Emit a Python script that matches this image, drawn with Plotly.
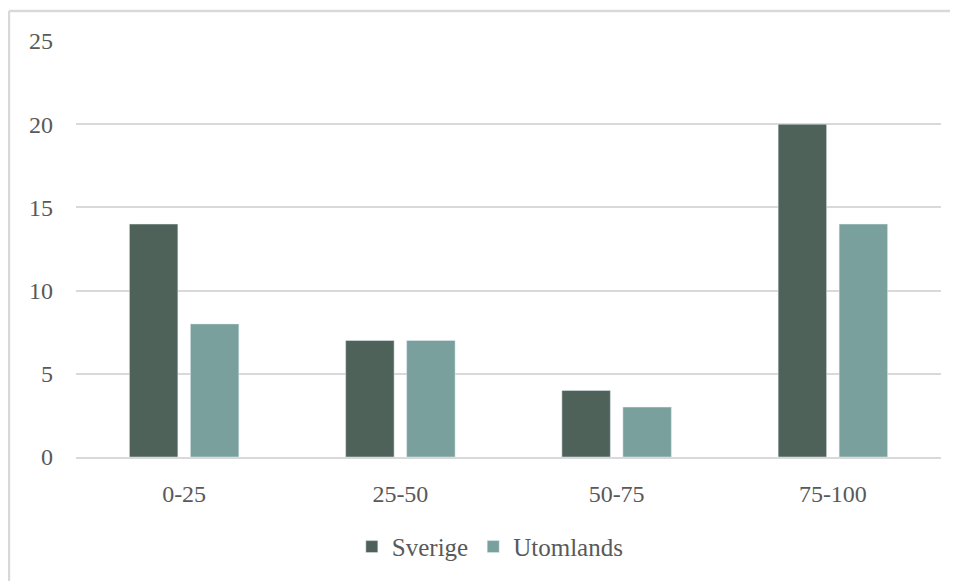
import plotly.graph_objects as go

categories = ["0-25", "25-50", "50-75", "75-100"]
sverige = [14, 7, 4, 20]
utomlands = [8, 7, 3, 14]
y_ticks = [0, 5, 10, 15, 20, 25]

font_family = "Liberation Serif, DejaVu Serif, serif"
text_color = "#595959"
border_color = "#d9d9d9"

fig = go.Figure()
fig.add_trace(go.Bar(name="Sverige", x=categories, y=sverige, marker_color="#4e625a"))
fig.add_trace(go.Bar(name="Utomlands", x=categories, y=utomlands, marker_color="#79a09d"))

# the page body adds an 8px margin, so the figure is offset by 8px
fig.update_layout(
    width=950, height=573,
    margin=dict(l=68, r=17, t=33, b=124, autoexpand=False),
    paper_bgcolor="white", plot_bgcolor="white",
    barmode="group", bargap=0.436, bargroupgap=0.205,
    font=dict(family=font_family, size=24, color=text_color),
    showlegend=True,
    legend=dict(orientation="h", x=0.479, xanchor="center", y=-0.216, yanchor="middle",
                font=dict(size=25, color=text_color), itemwidth=30, traceorder="normal"),
    shapes=[
        dict(type="line", xref="paper", yref="paper", x0=-0.0775, x1=1.2, y0=1.072, y1=1.072,
             line=dict(color=border_color, width=2.5), layer="below"),
        dict(type="line", xref="paper", yref="paper", x0=-0.0775, x1=-0.0775, y0=-0.5, y1=1.072,
             line=dict(color=border_color, width=2.5), layer="below"),
    ],
)
fig.update_yaxes(range=[0, 25], tickvals=y_ticks, showgrid=True, gridcolor=border_color, gridwidth=1.5,
                 zeroline=False, showline=False, ticks="", ticklabelstandoff=22,
                 tickfont=dict(size=24, color=text_color))
fig.update_xaxes(showline=True, linecolor=border_color, linewidth=1.5, ticks="", ticklabelstandoff=14,
                 tickfont=dict(size=24, color=text_color))

fig.write_html("out.html")
